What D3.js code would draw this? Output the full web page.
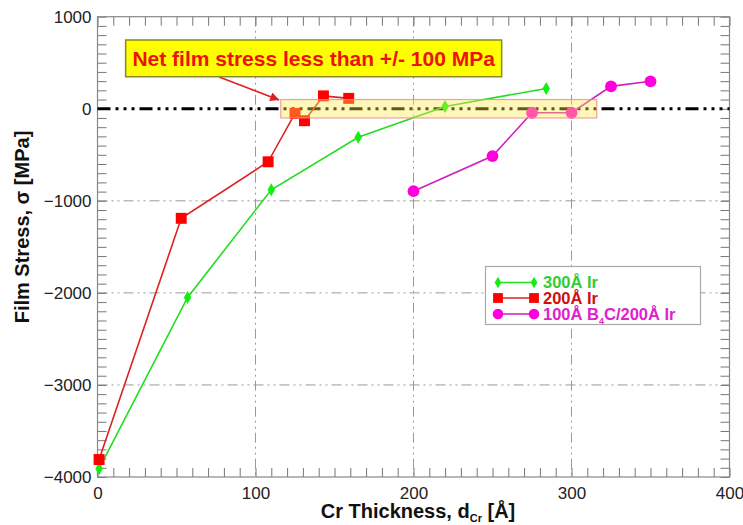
<!DOCTYPE html>
<html><head><meta charset="utf-8">
<script src="https://cdn.jsdelivr.net/npm/d3@7"></script>
<style>body{margin:0;background:#fff}svg{display:block;font-family:"Liberation Sans",Arial,sans-serif}</style>
</head><body><svg id="c" width="743" height="525"></svg>
<script>
// ---- data ----
const ir300X = [1, 57, 110, 165, 220, 284];
const ir300Y = [-3910, -2050, -880, -310, 25, 220];
const ir200X = [1, 53, 108, 125, 131, 143, 159];
const ir200Y = [-3810, -1190, -576, -50, -130, 140, 113];
const b4cX = [200, 250, 275, 300, 325, 350];
const b4cY = [-895, -514, -43, -43, 243, 298];
const seriesNames = ["300Å Ir", "200Å Ir", "100Å B4C/200Å Ir"];
const xTicks = [0, 100, 200, 300, 400];
const yTicks = [-4000, -3000, -2000, -1000, 0, 1000];
const bandX = [116, 316];
const bandY = [-100, 100];
const noteText = "Net film stress less than +/- 100 MPa";

const svg = d3.select("#c");
const x = d3.scaleLinear([0, 400], [97.5, 729.5]);
const y = d3.scaleLinear([-4000, 1000], [477, 16.7]);
const L = x(0), R = x(400), T = y(1000), B = y(-4000);

// grid
const gridDash = "10,4,2,4,2,4";
svg.append("g").selectAll("line").data(xTicks.slice(1, -1)).join("line")
  .attr("x1", d => x(d)).attr("x2", d => x(d)).attr("y1", T).attr("y2", B)
  .attr("stroke", "#9a9a9a").attr("stroke-width", 1).attr("stroke-dasharray", gridDash);
svg.append("g").selectAll("line").data(yTicks.slice(1, -1).filter(d => d !== 0)).join("line")
  .attr("x1", L).attr("x2", R).attr("y1", d => y(d)).attr("y2", d => y(d))
  .attr("stroke", "#9a9a9a").attr("stroke-width", 1).attr("stroke-dasharray", gridDash);

// axes with inward ticks
const minorX = d3.range(0, 401, 10), minorY = d3.range(-4000, 1001, 100);
function styleAxis(g) {
  g.select(".domain").remove();
  g.selectAll(".tick line").attr("stroke", "#777");
  g.selectAll(".tick text").attr("fill", "#222").style("font-size", "17px").style("font-family", '"Liberation Sans",Arial,sans-serif');
}
const fmtX = d => (d % 100 === 0 ? d3.format("d")(d) : "");
const fmtY = d => (d % 1000 === 0 ? d3.format("d")(d) : "");
svg.append("g").attr("transform", `translate(0,${B})`)
  .call(d3.axisBottom(x).tickValues(minorX).tickSizeInner(-9).tickSizeOuter(0).tickPadding(10).tickFormat(fmtX))
  .call(styleAxis);
svg.append("g").attr("transform", `translate(0,${T})`)
  .call(d3.axisTop(x).tickValues(minorX).tickSizeInner(-9).tickSizeOuter(0).tickFormat(""))
  .call(styleAxis);
svg.append("g").attr("transform", `translate(${L},0)`)
  .call(d3.axisLeft(y).tickValues(minorY).tickSizeInner(-9).tickSizeOuter(0).tickPadding(6).tickFormat(fmtY))
  .call(styleAxis);
svg.append("g").attr("transform", `translate(${R},0)`)
  .call(d3.axisRight(y).tickValues(minorY).tickSizeInner(-9).tickSizeOuter(0).tickFormat(""))
  .call(styleAxis);
svg.append("rect").attr("x", L).attr("y", T).attr("width", R - L).attr("height", B - T)
  .attr("fill", "none").attr("stroke", "#888").attr("stroke-width", 1.2);

// zero line
svg.append("line").attr("x1", L).attr("x2", R).attr("y1", y(0)).attr("y2", y(0))
  .attr("stroke", "#000").attr("stroke-width", 3.2).attr("stroke-dasharray", "13,5,3,5,3,5,3,5");

// series
const line = d3.line().x(d => x(d[0])).y(d => y(d[1]));
const series = [
  {pts: d3.zip(ir300X, ir300Y), line: "#22dd22", fill: "#11ee11", shape: d3.symbolDiamond, size: 48},
  {pts: d3.zip(ir200X, ir200Y), line: "#dd2222", fill: "#ff0000", shape: d3.symbolSquare, size: 120},
  {pts: d3.zip(b4cX, b4cY), line: "#cc22bb", fill: "#ff00dd", shape: d3.symbolCircle, size: 110}
];
series.forEach(s => {
  svg.append("path").attr("d", line(s.pts)).attr("fill", "none").attr("stroke", s.line).attr("stroke-width", 1.6);
  svg.append("g").selectAll("path").data(s.pts).join("path")
    .attr("transform", d => `translate(${x(d[0])},${y(d[1])})`)
    .attr("d", d3.symbol(s.shape, s.size)).attr("fill", s.fill);
});

// translucent band
svg.append("rect").attr("x", x(bandX[0])).attr("y", y(bandY[1]))
  .attr("width", x(bandX[1]) - x(bandX[0])).attr("height", y(bandY[0]) - y(bandY[1]))
  .attr("fill", "#ffe84a").attr("fill-opacity", 0.38).attr("stroke", "#f08a8a").attr("stroke-opacity", 0.8).attr("stroke-width", 1.2);

// annotation
svg.append("defs").append("marker").attr("id", "ah").attr("viewBox", "0 0 10 10")
  .attr("refX", 10).attr("refY", 5).attr("markerWidth", 13).attr("markerHeight", 9).attr("markerUnits", "userSpaceOnUse")
  .attr("orient", "auto").append("path").attr("d", "M0,0L10,5L0,10z").attr("fill", "#dd2222");
svg.append("line").attr("x1", x(77)).attr("y1", y(344)).attr("x2", x(115)).attr("y2", y(95))
  .attr("stroke", "#dd2222").attr("stroke-width", 1.6).attr("marker-end", "url(#ah)");
svg.append("rect").attr("x", x(17.8)).attr("y", y(747)).attr("width", x(255.8) - x(17.8)).attr("height", y(348) - y(747))
  .attr("fill", "#ffff00").attr("stroke", "#8a8a20").attr("stroke-width", 1.5);
svg.append("text").attr("x", (x(17.8) + x(255.8)) / 2).attr("y", (y(747) + y(348)) / 2 + 7.5)
  .attr("text-anchor", "middle").attr("fill", "#ee1111").style("font-weight", "bold").style("font-size", "21px")
  .text(noteText);

// legend
const lg = svg.append("g");
lg.append("rect").attr("x", 485.5).attr("y", 266.5).attr("width", 215).attr("height", 58)
  .attr("fill", "#fff").attr("stroke", "#aaa").attr("stroke-width", 1.2);
const legColors = ["#33cc33", "#cc1111", "#dd22cc"];
const rowY = [282.5, 298, 314];
series.forEach((s, i) => {
  const g = lg.append("g");
  g.append("line").attr("x1", 498).attr("x2", 534).attr("y1", rowY[i]).attr("y2", rowY[i]).attr("stroke", s.line).attr("stroke-width", 1.5);
  g.selectAll("path").data([498, 534]).join("path").attr("transform", d => `translate(${d},${rowY[i]})`)
    .attr("d", d3.symbol(s.shape, s.size * 0.8)).attr("fill", s.fill);
  const t = g.append("text").attr("x", 543).attr("y", rowY[i] + 5.5).attr("fill", legColors[i])
    .style("font-weight", "bold").style("font-size", "16.5px");
  if (i === 2) {
    t.append("tspan").text("100Å B");
    t.append("tspan").attr("dy", 4).style("font-size", "9px").text("4");
    t.append("tspan").attr("dy", -4).text("C/200Å Ir");
  } else t.text(seriesNames[i]);
});

// axis titles
const xt = svg.append("text").attr("x", 418).attr("y", 518).attr("text-anchor", "middle")
  .attr("fill", "#111").style("font-weight", "bold").style("font-size", "20px");
xt.append("tspan").text("Cr Thickness, d");
xt.append("tspan").attr("dy", 4).style("font-size", "11px").text("Cr");
xt.append("tspan").attr("dy", -4).text(" [Å]");
svg.append("text").attr("transform", "translate(29,227) rotate(-90)").attr("text-anchor", "middle")
  .attr("fill", "#111").style("font-weight", "bold").style("font-size", "20px").text("Film Stress, σ [MPa]");
</script></body></html>
